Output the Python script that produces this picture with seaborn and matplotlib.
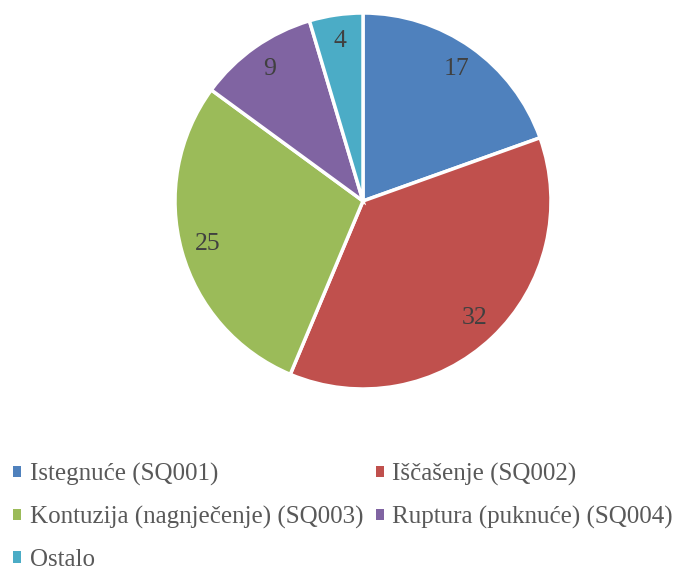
import matplotlib
matplotlib.use("Agg")
import matplotlib.pyplot as plt
import seaborn as sns
from matplotlib.patches import Patch

# data
categories = ["Istegnuće (SQ001)", "Iščašenje (SQ002)", "Kontuzija (nagnječenje) (SQ003)",
              "Ruptura (puknuće) (SQ004)", "Ostalo"]
values = [17, 32, 25, 9, 4]
colors = ["#4F81BD", "#C0504D", "#9BBB59", "#8064A2", "#4BACC6"]

sns.set_style("white")
plt.rcParams['font.family'] = ['Liberation Serif', 'DejaVu Serif']

fig = plt.figure(figsize=(6.81, 5.72), dpi=100)
ax = fig.add_axes([175 / 681, (572 - 389) / 572, 376 / 681, 376 / 572])

wedges, texts = ax.pie(values, colors=colors, startangle=90, counterclock=False,
                       labels=[str(v) for v in values], labeldistance=0.86,
                       wedgeprops=dict(edgecolor="white", linewidth=2.5),
                       textprops=dict(color="#404040", fontsize=18.5))
for t in texts:
    t.set_ha("center")
    t.set_va("center")
ax.set_xlim(-1.0, 1.0)
ax.set_ylim(-1.0, 1.0)
ax.set_aspect("equal")

# legend filled row by row like the original
order = [0, 2, 4, 1, 3]
handles = [Patch(facecolor=colors[i], edgecolor="none") for i in order]
labels = [categories[i] for i in order]
fig.legend(handles, labels, loc="upper left", bbox_to_anchor=(13 / 681, 0.191), ncol=2,
           frameon=False, borderpad=0, borderaxespad=0,
           handlelength=0.32, handleheight=0.32, handletextpad=0.36,
           columnspacing=0.48, labelspacing=0.8,
           prop=dict(size=18), labelcolor="#595959")

fig.savefig("out.png", dpi=100)
